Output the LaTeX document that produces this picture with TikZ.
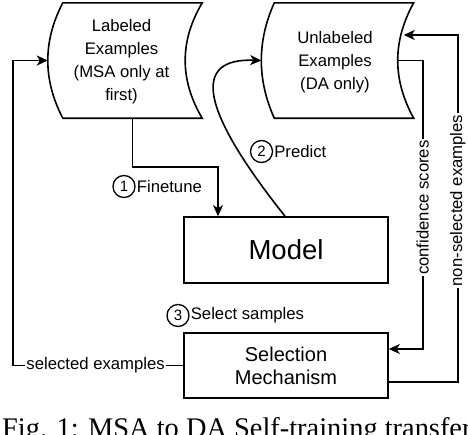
\documentclass[tikz,border=0pt]{standalone}
\usepackage{fontspec}
\setmainfont{Liberation Sans}
\newfontfamily\capfont{Liberation Serif}
\usetikzlibrary{arrows.meta}
\newcommand\storedshape[3]{% node, left offset, right offset
  \draw[line width=1.6pt] (#1.north west) -- (#1.north east)
    .. controls +(-#3,38.3) and +(-#3,-38.3) .. (#1.south east)
    -- (#1.south west)
    .. controls +(-#2,-38.3) and +(-#2,38.3) .. (#1.north west) -- cycle;}
\begin{document}
\begin{tikzpicture}[x=1pt,y=-1pt,
  conn/.style={line width=1.6pt},
  arr/.style={conn,-{Stealth[length=11pt,width=10pt,inset=3pt]}},
  holder/.style={inner sep=0pt, minimum width=139pt, minimum height=115pt},
  boxnode/.style={draw, line width=1.6pt, minimum width=204pt, minimum height=65pt, inner sep=0pt},
  smalltxt/.style={font=\fontsize{16.7}{23}\selectfont},
  numcirc/.style={circle, draw, line width=1.3pt, minimum size=22pt, inner sep=0pt, font=\fontsize{15}{15}\selectfont},
  lbl/.style={smalltxt, inner sep=1pt, anchor=west},
  onlbl/.style={smalltxt, fill=white, inner sep=1.5pt},
]
\useasboundingbox (0,0) rectangle (468,434);
\clip (0,0) rectangle (468,434);

% stored data shapes
\node[holder] (lab) at (132.5,60.5) {};
\node[holder] (unl) at (344,60.5) {};
\storedshape{lab}{20}{22.7}
\storedshape{unl}{17.3}{21.3}
\node[smalltxt, align=center] (labtxt) at ([xshift=-11pt,yshift=-1.5pt]lab.center) {Labeled\\Examples\\(MSA only at\\first)};
\node[smalltxt, align=center] (unltxt) at ([xshift=-9pt,yshift=-1.5pt]unl.center) {Unlabeled\\Examples\\(DA only)};

% boxes
\node[boxnode, minimum height=66pt, font=\fontsize{27.5}{30}\selectfont] (model) at (286,250) {Model};
\node[boxnode, align=center, font=\fontsize{20}{23}\selectfont] (sel) at (286,365.5) {Selection\\Mechanism};

% 1 finetune
\draw[arr] (lab.south) -- ++(0,49) -| ([xshift=-68pt]model.north);
\node[numcirc] (c1) at (124,186.5) {1};
\node[lbl] (t1) at (c1.east) {Finetune};

% 2 predict
\draw[arr] ([xshift=-1pt]model.north) .. controls +(-85,-107) and +(-70,-2.5) .. ([xshift=-13pt]unl.west);
\node[numcirc] (c2) at (261.5,151.5) {2};
\node[lbl] (t2) at (c2.east) {Predict};

% 3 select
\node[numcirc] (c3) at (178,315.5) {3};
\node[lbl] (t3) at (c3.east) {Select samples};

% selected examples
\draw[arr] (sel.west) -- node[onlbl, pos=0.515] (l4) {selected examples} ++(-170,0) |- ([xshift=-15pt]lab.west);

% confidence scores
\draw[arr] ([xshift=-16pt]unl.east) -- ++(25,0) |- node[onlbl, pos=0.255, rotate=90] (l5) {confidence scores} ([yshift=16.5pt]sel.east);

% non-selected examples
\draw[arr] ([yshift=-16.5pt]sel.east) -- ++(69,0) |- node[onlbl, pos=0.2615, rotate=90] (l6) {non-selected examples} ([xshift=-10pt,yshift=25.5pt]unl.east);

% caption (cut off)
\node[anchor=base west, inner sep=0pt, font=\capfont\fontsize{28.4}{30}\selectfont] (cap) at (2,437) {Fig. 1: MSA to DA Self-training transfer};
\end{tikzpicture}
\end{document}
